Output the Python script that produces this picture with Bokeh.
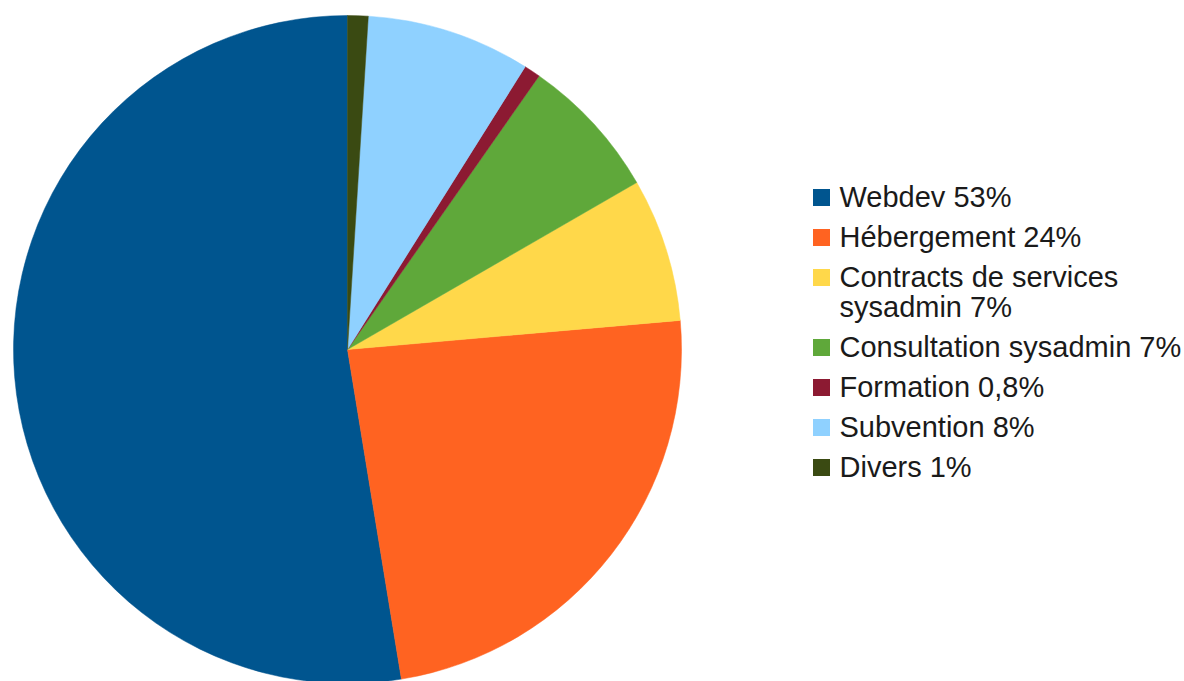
import math
from bokeh.plotting import figure
from bokeh.models import ColumnDataSource, Range1d
from bokeh.core.properties import value
from bokeh.embed import file_html
from bokeh.resources import INLINE

labels = ["Webdev 53%", "Hébergement 24%", "Contracts de services\nsysadmin 7%",
          "Consultation sysadmin 7%", "Formation 0,8%", "Subvention 8%", "Divers 1%"]
values = [53, 24, 7, 7, 0.8, 8, 1]
colors = ["#00558f", "#ff6321", "#ffd84a", "#5fa83a", "#8c1a32", "#8fd1ff", "#3a4a12"]

W, H = 1184, 681
p = figure(width=W, height=H, output_backend="svg", toolbar_location=None,
           x_range=Range1d(0, W), y_range=Range1d(0, H), min_border=0)
p.axis.visible = False
p.grid.visible = False
p.outline_line_color = None
p.background_fill_color = "white"

total = sum(values)
starts, ends = [], []
acc = 0.0
for v in values:
    starts.append(math.pi / 2 + 2 * math.pi * acc / total)
    acc += v
    ends.append(math.pi / 2 + 2 * math.pi * acc / total)

src = ColumnDataSource(dict(start=starts, end=ends, color=colors, label=labels))
cx, cy, r = 347, 332, 334
p.wedge(x=cx, y=cy, radius=r, radius_units="screen", start_angle="start", end_angle="end",
        direction="anticlock", fill_color="color", line_color="color", line_width=0.5, source=src)

# legend
sq_x, sq_y0, step, wrap = 821, 484, 40, 30
sx, sy, sc, tx, ty, tt = [], [], [], [], [], []
y = sq_y0
for lab, col in zip(labels, colors):
    sx.append(sq_x)
    sy.append(y)
    sc.append(col)
    lines = lab.split("\n")
    for k, ln in enumerate(lines):
        tx.append(sq_x + 18)
        ty.append(y + 1 - k * wrap)
        tt.append(ln)
    y -= step + wrap * (len(lines) - 1)

p.rect(x=sx, y=sy, width=17, height=17, width_units="screen", height_units="screen",
       fill_color=sc, line_color=None)
p.text(x=tx, y=ty, text=tt, text_font=value("Liberation Sans"), text_font_size="29px",
       text_color="#1a1a1a", text_baseline="alphabetic", text_align="left")

open("out.html", "w").write(file_html(p, INLINE))
